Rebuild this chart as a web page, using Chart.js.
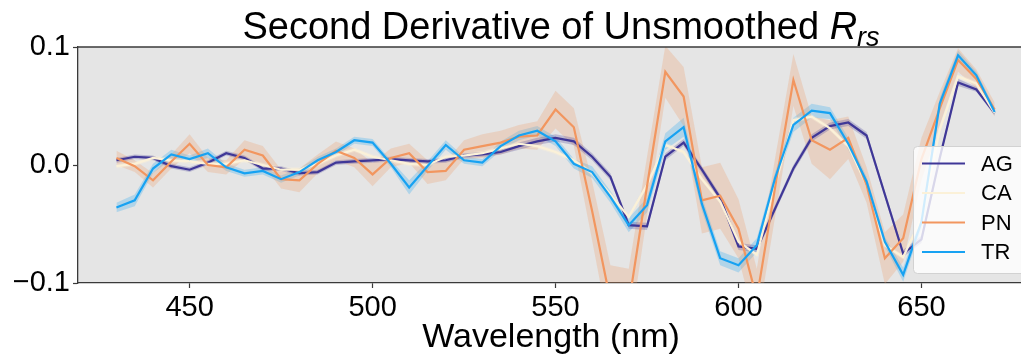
<!DOCTYPE html>
<html>
<head>
<meta charset="utf-8">
<script src="https://cdn.jsdelivr.net/npm/chart.js@4.4.1/dist/chart.umd.min.js"></script>
<style>
  html, body { margin: 0; padding: 0; background: #fff; overflow: hidden; }
  canvas { display: block; }
</style>
</head>
<body>
<canvas id="myChart" width="1021" height="358"></canvas>
<script>
// longitudes de onda (nm) y segunda derivada de Rrs por clase
const wavelengths = [430, 435, 440, 445, 450, 455, 460, 465, 470, 475, 480, 485, 490, 495, 500, 505, 510, 515, 520, 525,
  530, 535, 540, 545, 550, 555, 560, 565, 570, 575, 580, 585, 590, 595, 600, 605, 610, 615, 620, 625,
  630, 635, 640, 645, 650, 655, 660, 665, 670];

const classNames = ['AG', 'CA', 'PN', 'TR'];

const agValues = [0.004, 0.007, 0.006, -0.001, -0.004, 0.002, 0.010, 0.006, -0.003, -0.003, -0.007, -0.006, 0.002, 0.003, 0.004, 0.005, 0.004, 0.003, 0.004, 0.008,
  0.009, 0.011, 0.016, 0.020, 0.023, 0.020, 0.007, -0.010, -0.051, -0.052, 0.007, 0.019, -0.004, -0.028, -0.069, -0.071, -0.037, -0.003, 0.023, 0.033,
  0.036, 0.025, -0.025, -0.075, -0.063, 0.006, 0.070, 0.064, 0.044];
const caValues = [-0.001, 0.001, 0.006, 0.004, 0.003, 0.001, 0.001, 0.004, 0.000, -0.004, -0.004, 0.001, 0.008, 0.013, 0.007, 0.004, 0.001, 0.000, 0.007, 0.008,
  0.010, 0.014, 0.018, 0.016, 0.011, 0.004, -0.007, -0.025, -0.044, -0.017, 0.017, 0.011, -0.012, -0.031, -0.065, -0.076, -0.017, 0.038, 0.041, 0.031,
  0.016, -0.017, -0.068, -0.078, -0.045, 0.030, 0.075, 0.069, 0.044];
const pnValues = [0.006, -0.001, -0.013, 0.003, 0.018, 0.000, -0.002, 0.013, 0.008, -0.012, -0.013, 0.001, 0.012, 0.006, -0.008, 0.006, 0.010, -0.006, -0.005, 0.013,
  0.016, 0.019, 0.024, 0.025, 0.047, 0.032, -0.039, -0.115, -0.118, -0.018, 0.079, 0.058, -0.030, -0.026, -0.054, -0.113, -0.019, 0.072, 0.021, 0.013,
  0.023, -0.017, -0.079, -0.062, 0.005, 0.048, 0.089, 0.073, 0.047];
const trValues = [-0.036, -0.030, -0.003, 0.009, 0.005, 0.010, -0.002, -0.007, -0.005, -0.012, -0.006, 0.004, 0.011, 0.021, 0.019, 0.001, -0.019, -0.001, 0.017, 0.004,
  0.002, 0.016, 0.025, 0.029, 0.020, 0.001, -0.006, -0.027, -0.051, -0.034, 0.020, 0.032, -0.033, -0.079, -0.085, -0.068, -0.011, 0.034, 0.046, 0.044,
  0.018, -0.014, -0.065, -0.093, -0.048, 0.052, 0.093, 0.076, 0.045];

// semiancho del intervalo de confianza (banda sombreada)
const agCi = [0.002, 0.002, 0.002, 0.002, 0.002, 0.002, 0.002, 0.002, 0.002, 0.002, 0.002, 0.002, 0.002, 0.002, 0.002, 0.002, 0.002, 0.002, 0.002, 0.002,
  0.002, 0.002, 0.003, 0.003, 0.003, 0.003, 0.003, 0.003, 0.003, 0.003, 0.003, 0.003, 0.003, 0.003, 0.003, 0.003, 0.003, 0.003, 0.003, 0.003,
  0.003, 0.003, 0.003, 0.003, 0.003, 0.003, 0.003, 0.002, 0.002];
const caCi = [0.002, 0.002, 0.002, 0.002, 0.002, 0.002, 0.002, 0.002, 0.002, 0.002, 0.002, 0.002, 0.002, 0.002, 0.002, 0.002, 0.002, 0.002, 0.002, 0.002,
  0.002, 0.002, 0.002, 0.002, 0.002, 0.002, 0.002, 0.002, 0.002, 0.002, 0.002, 0.002, 0.002, 0.002, 0.002, 0.002, 0.002, 0.002, 0.002, 0.002,
  0.002, 0.002, 0.002, 0.002, 0.002, 0.002, 0.002, 0.002, 0.002];
const pnCi = [0.006, 0.005, 0.006, 0.006, 0.008, 0.006, 0.006, 0.008, 0.008, 0.008, 0.010, 0.008, 0.008, 0.008, 0.010, 0.008, 0.008, 0.010, 0.008, 0.008,
  0.010, 0.010, 0.010, 0.012, 0.016, 0.016, 0.025, 0.030, 0.030, 0.025, 0.022, 0.025, 0.028, 0.028, 0.025, 0.025, 0.025, 0.022, 0.020, 0.025,
  0.018, 0.015, 0.022, 0.020, 0.018, 0.014, 0.010, 0.008, 0.006];
const trCi = [0.004, 0.005, 0.004, 0.004, 0.003, 0.004, 0.003, 0.003, 0.003, 0.003, 0.003, 0.003, 0.003, 0.003, 0.003, 0.003, 0.006, 0.004, 0.004, 0.003,
  0.003, 0.004, 0.004, 0.004, 0.004, 0.004, 0.005, 0.005, 0.006, 0.006, 0.007, 0.008, 0.006, 0.006, 0.006, 0.006, 0.005, 0.006, 0.006, 0.005,
  0.005, 0.004, 0.004, 0.006, 0.005, 0.005, 0.004, 0.003, 0.003];

const xTicks = [450, 500, 550, 600, 650];
const yTicks = [-0.1, 0.0, 0.1];

const lineColors = ['#3f3797', '#fbf1d8', '#f2965f', '#17a2f2'];
const bandColors = ['rgba(63,55,151,0.25)', 'rgba(251,241,216,0.35)', 'rgba(240,150,95,0.25)', 'rgba(23,162,242,0.25)'];

const FONT = '"Liberation Sans", Arial, Helvetica, sans-serif';

function pts(vals, ci, sign) {
  return wavelengths.map((w, i) => ({ x: w, y: vals[i] + sign * ci[i] }));
}

const series = [
  [agValues, agCi],
  [caValues, caCi],
  [pnValues, pnCi],
  [trValues, trCi]
];

const datasets = [];
series.forEach(([vals, ci], k) => {
  datasets.push({
    label: '_band',
    data: pts(vals, ci, 1),
    borderWidth: 0,
    pointRadius: 0,
    backgroundColor: bandColors[k],
    fill: '+1',
    order: 20
  });
  datasets.push({
    label: '_band',
    data: pts(vals, ci, -1),
    borderWidth: 0,
    pointRadius: 0,
    fill: false,
    order: 20
  });
});
series.forEach(([vals], k) => {
  datasets.push({
    label: classNames[k],
    data: wavelengths.map((w, i) => ({ x: w, y: vals[i] })),
    borderColor: lineColors[k],
    borderWidth: 2.2,
    pointRadius: 0,
    fill: false,
    tension: 0,
    order: 4 - k
  });
});

// fondo gris, marco superior, titulo, etiqueta X y leyenda
const decor = {
  id: 'decor',
  beforeDraw(chart) {
    const { ctx, chartArea: a } = chart;
    ctx.save();
    ctx.fillStyle = '#e5e5e5';
    ctx.fillRect(a.left, a.top, a.right - a.left, a.bottom - a.top);
    ctx.restore();
  },
  afterDraw(chart) {
    const { ctx, chartArea: a } = chart;
    ctx.save();
    ctx.strokeStyle = '#3a3a3a';
    ctx.lineWidth = 1.3;
    ctx.beginPath();
    ctx.moveTo(a.left, a.top);
    ctx.lineTo(a.right, a.top);
    ctx.stroke();

    // titulo con R_rs en cursiva
    ctx.fillStyle = '#000';
    ctx.textBaseline = 'alphabetic';
    const t1 = 'Second Derivative of Unsmoothed ';
    const f1 = '38px ' + FONT, f2 = 'italic 38px ' + FONT, f3 = 'italic 27px ' + FONT;
    ctx.font = f1; const w1 = ctx.measureText(t1).width;
    ctx.font = f2; const w2 = ctx.measureText('R').width;
    ctx.font = f3; const w3 = ctx.measureText('rs').width;
    let x = 561 - (w1 + w2 + w3) / 2;
    const base = 39;
    ctx.textAlign = 'left';
    ctx.font = f1; ctx.fillText(t1, x, base); x += w1;
    ctx.font = f2; ctx.fillText('R', x, base); x += w2;
    ctx.font = f3; ctx.fillText('rs', x, base + 7);

    // etiqueta del eje X
    ctx.font = '34px ' + FONT;
    ctx.textAlign = 'center';
    ctx.fillText('Wavelength (nm)', 551, 347);

    // leyenda
    const lx = 913, ly = 146, lw = 112, lh = 127;
    ctx.fillStyle = 'rgba(255,255,255,0.8)';
    ctx.strokeStyle = '#d2d2d2';
    ctx.lineWidth = 1;
    ctx.beginPath();
    ctx.roundRect(lx + 0.5, ly + 0.5, lw, lh, 4);
    ctx.fill();
    ctx.stroke();
    ctx.font = '22px ' + FONT;
    ctx.textAlign = 'left';
    ctx.textBaseline = 'middle';
    const lines = chart.data.datasets.filter(d => d.label !== '_band');
    lines.forEach((d, i) => {
      const yy = 163.5 + i * 29.5;
      ctx.strokeStyle = d.borderColor;
      ctx.lineWidth = 2.2;
      ctx.beginPath();
      ctx.moveTo(922, yy);
      ctx.lineTo(965, yy);
      ctx.stroke();
      ctx.fillStyle = '#000';
      ctx.fillText(d.label, 981, yy + 1);
    });
    ctx.restore();
  }
};

const ctx = document.getElementById('myChart');

new Chart(ctx, {
  type: 'line',
  data: { datasets },
  options: {
    responsive: false,
    animation: false,
    layout: { padding: { top: 47, left: 0, right: 0, bottom: 0 } },
    plugins: {
      legend: { display: false },
      tooltip: { enabled: false },
      filler: { drawTime: 'beforeDatasetsDraw' }
    },
    scales: {
      x: {
        type: 'linear',
        min: 419.5,
        max: 677.2,
        afterBuildTicks: s => { s.ticks = xTicks.map(v => ({ value: v })); },
        afterFit: s => { s.height = 75; },
        grid: { drawOnChartArea: false, drawTicks: true, tickLength: 5, color: '#3a3a3a', tickWidth: 1.2 },
        border: { color: '#3a3a3a', width: 1.3 },
        ticks: { color: '#000', font: { family: FONT, size: 29 }, padding: 3, maxRotation: 0 }
      },
      y: {
        min: -0.1,
        max: 0.1,
        afterBuildTicks: s => { s.ticks = yTicks.map(v => ({ value: v })); },
        afterFit: s => { s.width = 78; },
        grid: { drawOnChartArea: false, drawTicks: true, tickLength: 5, color: '#3a3a3a', tickWidth: 1.2 },
        border: { color: '#3a3a3a', width: 1.3 },
        ticks: {
          color: '#000',
          font: { family: FONT, size: 29 },
          padding: 3,
          callback: v => (v < 0 ? '\u2212' : '') + Math.abs(v).toFixed(1)
        }
      }
    }
  },
  plugins: [decor]
});
</script>
</body>
</html>
